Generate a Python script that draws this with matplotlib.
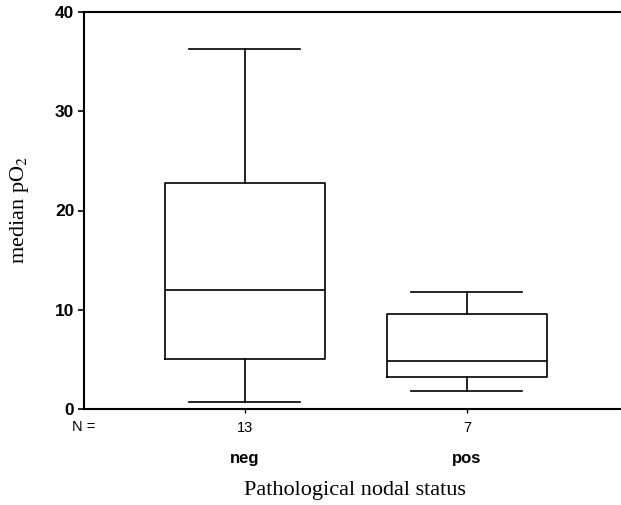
import matplotlib
matplotlib.use("Agg")
import matplotlib.pyplot as plt
import matplotlib.transforms as mtransforms

plt.rcParams['mathtext.fontset'] = 'stix'

categories = ["neg", "pos"]
counts = ["13", "7"]
whislo = [0.7, 1.8]
q1 = [5.0, 3.2]
med = [12.0, 4.8]
q3 = [22.8, 9.6]
whishi = [36.3, 11.8]
yticks = [0, 10, 20, 30, 40]

stats = []
for i, c in enumerate(categories):
    stats.append(dict(label=c, whislo=whislo[i], q1=q1[i], med=med[i],
                      q3=q3[i], whishi=whishi[i], fliers=[]))

fig = plt.figure(figsize=(6.21, 5.05), dpi=100)
ax = fig.add_axes([84/621, (505-409)/505, (621-84)/621, (409-12)/505])

lw = 1.2
ax.bxp(stats, positions=[1, 2], widths=0.72, capwidths=0.5, showfliers=False,
       boxprops=dict(color='black', linewidth=lw),
       whiskerprops=dict(color='black', linewidth=lw),
       capprops=dict(color='black', linewidth=lw),
       medianprops=dict(color='black', linewidth=lw))

ax.set_xlim(0.275, 2.694)
ax.set_ylim(0, 40)
ax.set_yticks(yticks)
ax.set_yticklabels([str(t) for t in yticks], fontfamily='Liberation Sans',
                   fontweight='bold', fontsize=12.5)
ax.set_xticks([1, 2])
ax.set_xticklabels(counts, fontfamily='Liberation Sans', fontsize=10.5)
ax.tick_params(axis='y', direction='out', length=4, width=1.2, pad=3)
ax.tick_params(axis='x', direction='out', length=3, width=1.0, pad=6)

for s in ['left', 'top', 'bottom']:
    ax.spines[s].set_linewidth(1.5)
ax.spines['right'].set_visible(False)

trans = mtransforms.blended_transform_factory(ax.transData, fig.transFigure)
for i, c in enumerate(categories):
    ax.text(i + 1, 1 - 458/505, c, transform=trans, ha='center', va='center',
            fontfamily='Liberation Sans', fontweight='bold', fontsize=12)
fig.text(72/621, 1 - 427/505, "N =", ha='left', va='center',
         fontfamily='Liberation Sans', fontsize=10.5)

fig.text(355/621, 1 - 490/505, "Pathological nodal status",
         ha='center', va='center', fontfamily='Liberation Serif', fontsize=16)
fig.text(20/621, 1 - 210/505, "median pO$_2$", rotation=90, ha='center',
         va='center', fontfamily='Liberation Serif', fontsize=16)

fig.savefig("out.png", dpi=100)
